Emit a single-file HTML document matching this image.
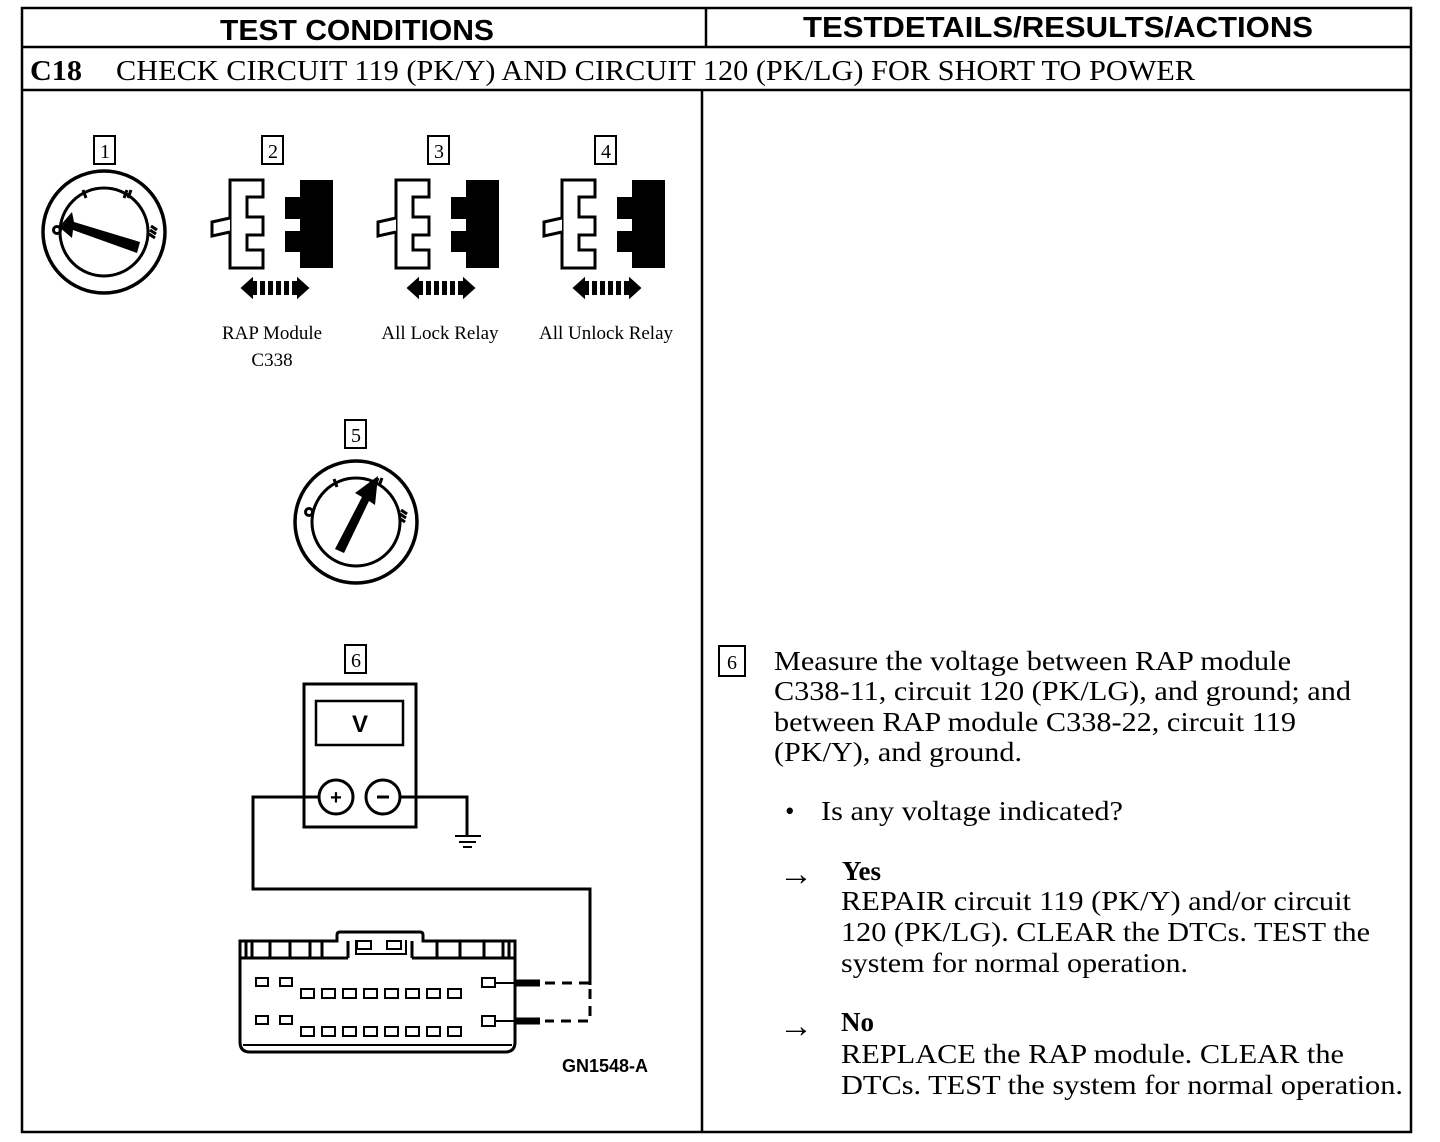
<!DOCTYPE html>
<html><head><meta charset="utf-8"><style>
html,body{margin:0;padding:0;background:#fff;}
svg{display:block;}
.s{font-family:"Liberation Serif",serif;fill:#000;}
.h{font-family:"Liberation Sans",sans-serif;font-weight:bold;fill:#000;}
</style></head><body>
<svg width="1440" height="1142" viewBox="0 0 1440 1142" xmlns="http://www.w3.org/2000/svg">
<defs>
<g id="conn">
  <path d="M230 180 H263 V197 H247 V217 H263 V235 H247 V250 H263 V268 H230 Z" fill="#fff" stroke="#000" stroke-width="3"/>
  <path d="M230 218 L212 222 L212 236 L230 232" fill="#fff" stroke="#000" stroke-width="3"/>
  <path d="M300 180 H333 V268 H300 V252 H285 V231 H300 V219 H285 V197 H300 Z" fill="#000"/>
  <path d="M242 288 L252 279 L252 297 Z M308 288 L298 279 L298 297 Z" fill="#000" stroke="#000" stroke-width="2"/>
  <path d="M252 288 H298" stroke="#000" stroke-width="14" stroke-dasharray="5 3"/>
</g>
</defs>
<g fill="none" stroke="#000" stroke-width="2.5">
<rect x="22" y="8" width="1389" height="1124"/>
<line x1="22" y1="47" x2="1411" y2="47"/>
<line x1="22" y1="90" x2="1411" y2="90"/>
<line x1="706" y1="8" x2="706" y2="47"/>
<line x1="702" y1="90" x2="702" y2="1132"/>
</g>
<text class="h" x="220" y="40" font-size="29" textLength="274" lengthAdjust="spacingAndGlyphs">TEST CONDITIONS</text>
<text class="h" x="803" y="37" font-size="29" textLength="510" lengthAdjust="spacingAndGlyphs">TESTDETAILS/RESULTS/ACTIONS</text>
<text class="s" x="30" y="80" font-size="28" font-weight="bold" textLength="52" lengthAdjust="spacingAndGlyphs">C18</text>
<text class="s" x="116" y="80" font-size="28" textLength="1079" lengthAdjust="spacingAndGlyphs">CHECK CIRCUIT 119 (PK/Y) AND CIRCUIT 120 (PK/LG) FOR SHORT TO POWER</text>

<g fill="none" stroke="#000" stroke-width="2">
<rect x="94" y="136" width="21" height="28"/>
<rect x="262" y="136" width="21" height="28"/>
<rect x="428" y="136" width="21" height="28"/>
<rect x="595" y="136" width="21" height="28"/>
<rect x="345" y="420" width="21" height="28"/>
<rect x="345" y="645" width="21" height="28"/>
<rect x="719" y="646" width="26" height="30"/>
</g>
<g class="s" font-size="20" text-anchor="middle">
<text x="105" y="158">1</text><text x="273" y="158">2</text><text x="439" y="158">3</text><text x="606" y="158">4</text>
<text x="356" y="442">5</text><text x="356" y="667">6</text><text x="732" y="669">6</text>
</g>

<circle cx="104" cy="232" r="61" fill="none" stroke="#000" stroke-width="3.5"/>
<circle cx="104" cy="232" r="44" fill="none" stroke="#000" stroke-width="3"/>
<g stroke="#000" stroke-width="3">
<line x1="83" y1="190" x2="86" y2="198"/><line x1="127" y1="190" x2="124" y2="198"/><line x1="131" y1="190" x2="128" y2="198"/>
<line x1="151" y1="226" x2="157" y2="230"/><line x1="150" y1="230" x2="156" y2="234"/><line x1="149" y1="234" x2="155" y2="238"/>
<circle cx="57" cy="230" r="3.5" fill="none"/>
</g>
<path d="M140 242 L74 222 L72 212 L59 227 L72 238 L73 230 L137 253 Z" fill="#000"/>

<circle cx="356" cy="522" r="61" fill="none" stroke="#000" stroke-width="3.5"/>
<circle cx="356" cy="522" r="44" fill="none" stroke="#000" stroke-width="3"/>
<g stroke="#000" stroke-width="3">
<line x1="334" y1="479" x2="337" y2="487"/><line x1="378" y1="478" x2="375" y2="486"/><line x1="382" y1="478" x2="379" y2="486"/>
<line x1="401" y1="510" x2="407" y2="514"/><line x1="400" y1="514" x2="406" y2="518"/><line x1="399" y1="518" x2="405" y2="522"/>
<circle cx="309" cy="512" r="3.5" fill="none"/>
</g>
<path d="M335 549 L362 497 L355 493 L378 476 L375 505 L369 501 L344 553 Z" fill="#000"/>

<use href="#conn"/>
<use href="#conn" x="166"/>
<use href="#conn" x="332"/>
<g class="s" font-size="19" text-anchor="middle">
<text x="272" y="339">RAP Module</text><text x="272" y="366">C338</text>
<text x="440" y="339">All Lock Relay</text>
<text x="606" y="339">All Unlock Relay</text>
</g>

<g fill="none" stroke="#000" stroke-width="3">
<rect x="304" y="684" width="112" height="143"/>
<rect x="316" y="701" width="87" height="44" stroke-width="2.5"/>
<circle cx="336" cy="797" r="17"/>
<circle cx="383" cy="797" r="17"/>
<path d="M319 797 H253 V889 H590 V985"/>
<path d="M400 797 H467 V836"/>
<line x1="455" y1="836" x2="481" y2="836" stroke-width="2"/>
<line x1="459" y1="842" x2="476" y2="842" stroke-width="2"/>
<line x1="463" y1="847" x2="472" y2="847" stroke-width="2"/>
<path d="M545 983 H590 V1021 H545" stroke-dasharray="10 7"/>
</g>
<text class="h" x="360" y="732" font-size="24" text-anchor="middle" font-weight="normal">V</text>
<text class="h" x="336" y="804" font-size="20" text-anchor="middle">+</text>
<line x1="377" y1="797" x2="389" y2="797" stroke="#000" stroke-width="3"/>

<g fill="none" stroke="#000" stroke-width="3">
<path d="M240 941 H337 V935 Q337 932 340 932 H420 Q423 932 423 935 V941 H515 V1042 Q515 1052 505 1052 H250 Q240 1052 240 1042 Z"/>
<path d="M240 958 H348 M412 958 H515"/>
<path d="M348 958 V941 M412 958 V941"/>
<path d="M356 940 V954 H406 V940" stroke-width="2"/>
<rect x="357" y="941" width="14" height="8" stroke-width="2"/>
<rect x="387" y="941" width="14" height="8" stroke-width="2"/>
<line x1="243" y1="1045" x2="512" y2="1045" stroke-width="2"/>
</g>
<g stroke="#000" stroke-width="3">
<line x1="246" y1="941" x2="246" y2="958"/><line x1="252" y1="941" x2="252" y2="958"/>
<line x1="270" y1="941" x2="270" y2="958"/><line x1="290" y1="941" x2="290" y2="958"/>
<line x1="310" y1="941" x2="310" y2="958"/><line x1="322" y1="941" x2="322" y2="958"/>
<line x1="437" y1="941" x2="437" y2="958"/><line x1="460" y1="941" x2="460" y2="958"/>
<line x1="484" y1="941" x2="484" y2="958"/><line x1="503" y1="941" x2="503" y2="958"/><line x1="509" y1="941" x2="509" y2="958"/>
</g>
<g fill="none" stroke="#000" stroke-width="2">
<rect x="256" y="978" width="12" height="8"/><rect x="280" y="978" width="12" height="8"/>
<rect x="301" y="989" width="13" height="9"/><rect x="322" y="989" width="13" height="9"/><rect x="343" y="989" width="13" height="9"/><rect x="364" y="989" width="13" height="9"/><rect x="385" y="989" width="13" height="9"/><rect x="406" y="989" width="13" height="9"/><rect x="427" y="989" width="13" height="9"/><rect x="448" y="989" width="13" height="9"/>
<rect x="482" y="978" width="13" height="9"/>
<rect x="256" y="1016" width="12" height="8"/><rect x="280" y="1016" width="12" height="8"/>
<rect x="301" y="1027" width="13" height="9"/><rect x="322" y="1027" width="13" height="9"/><rect x="343" y="1027" width="13" height="9"/><rect x="364" y="1027" width="13" height="9"/><rect x="385" y="1027" width="13" height="9"/><rect x="406" y="1027" width="13" height="9"/><rect x="427" y="1027" width="13" height="9"/><rect x="448" y="1027" width="13" height="9"/>
<rect x="482" y="1016" width="13" height="10"/>
</g>
<g stroke="#000">
<line x1="495" y1="983" x2="515" y2="983" stroke-width="2"/><line x1="515" y1="983" x2="540" y2="983" stroke-width="7"/>
<line x1="495" y1="1021" x2="515" y2="1021" stroke-width="2"/><line x1="515" y1="1021" x2="540" y2="1021" stroke-width="7"/>
</g>
<text class="h" x="562" y="1072" font-size="18">GN1548-A</text>

<g class="s" font-size="27">
<text x="774" y="670" textLength="517" lengthAdjust="spacingAndGlyphs">Measure the voltage between RAP module</text>
<text x="774" y="700" textLength="577" lengthAdjust="spacingAndGlyphs">C338-11, circuit 120 (PK/LG), and ground; and</text>
<text x="774" y="731" textLength="522" lengthAdjust="spacingAndGlyphs">between RAP module C338-22, circuit 119</text>
<text x="774" y="761" textLength="248" lengthAdjust="spacingAndGlyphs">(PK/Y), and ground.</text>
<text x="785" y="820">•</text>
<text x="821" y="820" textLength="302" lengthAdjust="spacingAndGlyphs">Is any voltage indicated?</text>
<text x="779" y="885" font-size="34">→</text>
<text x="842" y="880" font-weight="bold">Yes</text>
<text x="841" y="910" textLength="510" lengthAdjust="spacingAndGlyphs">REPAIR circuit 119 (PK/Y) and/or circuit</text>
<text x="841" y="941" textLength="529" lengthAdjust="spacingAndGlyphs">120 (PK/LG). CLEAR the DTCs. TEST the</text>
<text x="841" y="972" textLength="347" lengthAdjust="spacingAndGlyphs">system for normal operation.</text>
<text x="779" y="1037" font-size="34">→</text>
<text x="841" y="1031" font-weight="bold">No</text>
<text x="841" y="1063" textLength="503" lengthAdjust="spacingAndGlyphs">REPLACE the RAP module. CLEAR the</text>
<text x="841" y="1094" textLength="562" lengthAdjust="spacingAndGlyphs">DTCs. TEST the system for normal operation.</text>
</g>
</svg>
</body></html>
